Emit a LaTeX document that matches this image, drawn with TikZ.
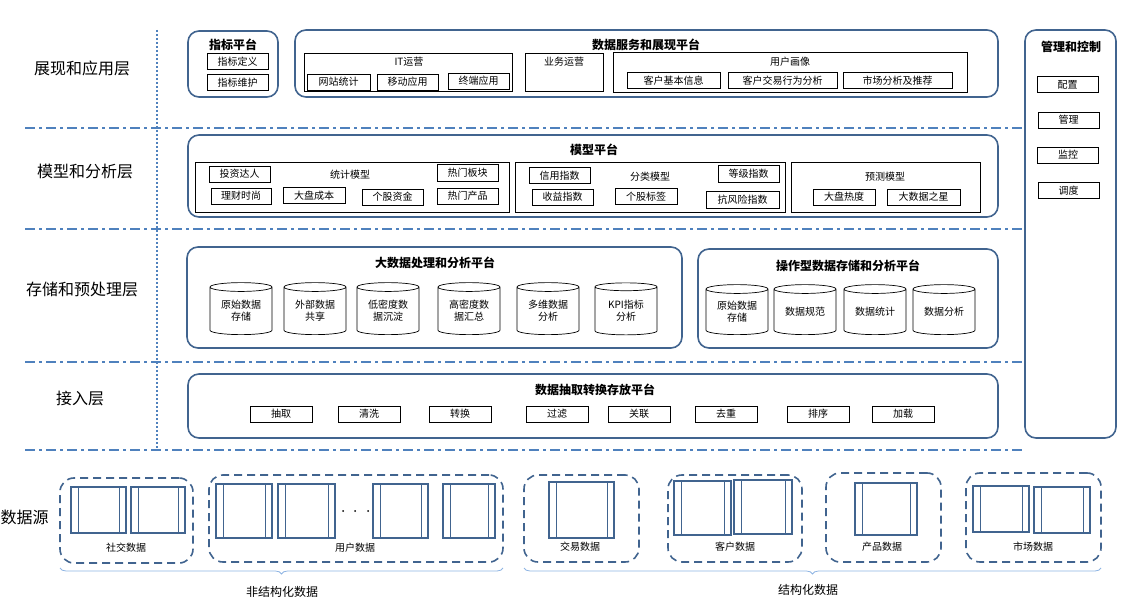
\documentclass[tikz,border=0pt]{standalone}
\usepackage{fontspec}
\setmainfont{Noto Sans CJK SC}
\usetikzlibrary{shapes.geometric,decorations.pathreplacing}
\definecolor{boxblue}{RGB}{65,100,143}
\definecolor{lineblue}{RGB}{79,129,189}
\definecolor{bracecol}{RGB}{142,180,227}

\begin{document}
\begin{tikzpicture}[
  x=1pt, y=-1pt,
  layer/.style={font=\fontsize{16}{18}\selectfont},
  platform/.style={draw=boxblue, line width=1.6pt, rounded corners=11pt, inner sep=0pt},
  title/.style={font=\bfseries\fontsize{12}{14}\selectfont},
  panel/.style={draw, line width=0.7pt, inner sep=0pt},
  item/.style={draw, line width=0.7pt, inner sep=0pt, minimum width=61pt, minimum height=16pt, font=\fontsize{10}{12}\selectfont},
  caption/.style={font=\fontsize{10}{12}\selectfont},
  store/.style={cylinder, shape border rotate=90, aspect=0.22, draw, line width=0.7pt, fill=white,
    minimum width=62pt, minimum height=52pt, inner sep=0pt, align=center, font=\fontsize{10}{12}\selectfont},
  source/.style={draw=boxblue, line width=1.6pt, dash pattern=on 8pt off 5pt, rounded corners=14pt, inner sep=0pt},
  sheet/.style={draw=boxblue, line width=1.3pt, inner sep=0pt, path picture={
    \draw[boxblue, line width=1pt]
      ([xshift=7pt]path picture bounding box.north west) -- ([xshift=7pt]path picture bounding box.south west)
      ([xshift=-7pt]path picture bounding box.north east) -- ([xshift=-7pt]path picture bounding box.south east);}},
  sep/.style={lineblue, line width=1.8pt, dash pattern=on 10pt off 4pt on 3pt off 4pt},
  span/.style={bracecol, line width=0.8pt, decorate, decoration={brace, mirror, amplitude=6pt}},
  footer/.style={font=\fontsize{12}{14}\selectfont}
]
\useasboundingbox (0,0) rectangle (1121,601);

% Layer separators
\draw[lineblue, line width=1.8pt, dash pattern=on 2pt off 2pt] (157,30) -- (157,450);
\foreach \y in {128,229,362,450}
  \draw[sep] (25,\y) -- (1022,\y);

% Layer names
\node[layer] (lshow) at (82,68) {展现和应用层};
\node[layer] (lmodel) at (85,171) {模型和分析层};
\node[layer] (lstore) at (82,289) {存储和预处理层};
\node[layer] (laccess) at (80,398) {接入层};
\node[layer, anchor=west] (lsrc) at (-3,517) {数据源};

% Presentation layer
\node[platform, minimum width=90pt, minimum height=66pt] (idxplat) at (233,64) {};
\node[title] (idxtitle) at (233,45) {指标平台};
\node[item] (idxdef) at (237.5,61.5) {指标定义};
\node[item] (idxmnt) at (237.5,82.5) {指标维护};

\node[platform, minimum width=703pt, minimum height=67pt] (svcplat) at (646.5,63.5) {};
\node[title] (svctitle) at (646,45) {数据服务和展现平台};
\node[panel, minimum width=208pt, minimum height=38pt] (itops) at (408,72) {};
\node[caption] at (409,62) {IT运营};
\node[item, minimum width=63pt] (web) at (338.5,82) {网站统计};
\node[item] (mobile) at (407.5,82) {移动应用};
\node[item] (terminal) at (478.5,81) {终端应用};
\node[panel, minimum width=78pt, minimum height=38pt] (bizops) at (564,72) {};
\node[caption] at (564,62) {业务运营};
\node[panel, minimum width=354pt, minimum height=40pt] (persona) at (790,72) {};
\node[caption] at (790,62) {用户画像};
\node[item, minimum width=93pt] (cinfo) at (673.5,80.5) {客户基本信息};
\node[item, minimum width=109pt] (ctrade) at (782.5,80.5) {客户交易行为分析};
\node[item, minimum width=109pt] (market) at (897.5,80.5) {市场分析及推荐};

% Management column
\node[platform, minimum width=91pt, minimum height=408pt] (mgmt) at (1070.5,234) {};
\node[title] (mgmttitle) at (1071,47) {管理和控制};
\node[item] (config) at (1067.5,84.5) {配置};
\node[item] (manage) at (1068.5,120) {管理};
\node[item] (monitor) at (1068,155) {监控};
\node[item] (dispatch) at (1068.5,190.5) {调度};

% Model layer
\node[platform, minimum width=810pt, minimum height=82pt] (modplat) at (593,176) {};
\node[title] (modtitle) at (594,150) {模型平台};
\node[panel, minimum width=314pt, minimum height=50pt] (stat) at (352,187) {};
\node[caption] at (350,175) {统计模型};
\node[item] (investor) at (239.5,174) {投资达人};
\node[item, minimum height=17pt] (hotsector) at (467.5,173) {热门板块};
\node[item, minimum width=60pt] (wealth) at (241,196) {理财时尚};
\node[item, minimum width=62pt] (cost) at (314,195.5) {大盘成本};
\node[item] (fund) at (392.5,197) {个股资金};
\node[item] (hotprod) at (467.5,196) {热门产品};
\node[panel, minimum width=270pt, minimum height=50pt] (cls) at (650,187) {};
\node[caption] at (650,177) {分类模型};
\node[item] (credit) at (559.5,175.5) {信用指数};
\node[item, minimum height=17pt] (grade) at (748.5,173.5) {等级指数};
\node[item] (profit) at (562.5,197) {收益指数};
\node[item, minimum width=62pt] (tag) at (646,196.5) {个股标签};
\node[item, minimum width=73pt, minimum height=17pt] (risk) at (742.5,199.5) {抗风险指数};
\node[panel, minimum width=189pt, minimum height=50pt] (pred) at (885.5,187) {};
\node[caption] at (885,177) {预测模型};
\node[item, minimum width=62pt] (heat) at (844,197) {大盘热度};
\node[item, minimum width=73pt] (star) at (923.5,197) {大数据之星};

% Storage layer
\node[platform, minimum width=495pt, minimum height=101pt] (bigplat) at (434.5,297.5) {};
\node[title] (bigtitle) at (435,263) {大数据处理和分析平台};
\node[store] (raw) at (241,311) {原始数据\\存储};
\node[store] (share) at (315,311) {外部数据\\共享};
\node[store] (lowden) at (388,311) {低密度数\\据沉淀};
\node[store] (highden) at (469,311) {高密度数\\据汇总};
\node[store] (multi) at (548,311) {多维数据\\分析};
\node[store] (kpi) at (626,311) {KPI指标\\分析};

\node[platform, minimum width=300pt, minimum height=99pt] (opplat) at (848,298.5) {};
\node[title] (optitle) at (848,266) {操作型数据存储和分析平台};
\node[store, minimum height=50pt] (opraw) at (737,312) {原始数据\\存储};
\node[store, minimum height=50pt] (norm) at (805,312) {数据规范};
\node[store, minimum height=50pt] (count) at (875,312) {数据统计};
\node[store, minimum height=50pt] (analy) at (944,312) {数据分析};

% Access layer
\node[platform, minimum width=810pt, minimum height=64pt] (etlplat) at (593,406) {};
\node[title] (etltitle) at (595,390) {数据抽取转换存放平台};
\foreach \x/\name/\txt in {281/extract/抽取, 369/clean/清洗, 460/convert/转换, 557/filter/过滤,
    639/join/关联, 726/dedup/去重, 818/sort/排序, 903/load/加载}
  \node[item, minimum width=62pt] (\name) at (\x,414) {\txt};

% Data sources
\node[source, minimum width=133pt, minimum height=85pt] (social) at (126.5,520.5) {};
\node[caption] at (126,548) {社交数据};
\node[sheet, minimum width=55pt, minimum height=46pt] (soc1) at (98.5,510) {};
\node[sheet, minimum width=54pt, minimum height=46pt] (soc2) at (158,510) {};

\node[source, minimum width=294pt, minimum height=87pt] (user) at (356,518.5) {};
\node[caption] at (355,548) {用户数据};
\node[sheet, minimum width=56pt, minimum height=54pt] (usr1) at (244,511) {};
\node[sheet, minimum width=57pt, minimum height=54pt] (usr2) at (306.5,511) {};
\node[sheet, minimum width=55pt, minimum height=54pt] (usr3) at (400.5,511) {};
\node[sheet, minimum width=52pt, minimum height=54pt] (usr4) at (469,511) {};
\foreach \x in {343,355,368}
  \fill (\x,511) circle (1pt);

\node[source, minimum width=115pt, minimum height=87pt] (trade) at (581.5,518.5) {};
\node[caption] at (580,547) {交易数据};
\node[sheet, minimum width=65pt, minimum height=56pt] (trd1) at (581.5,510) {};

\node[source, minimum width=134pt, minimum height=87pt] (customer) at (735,518.5) {};
\node[caption] at (735,547) {客户数据};
\node[sheet, minimum width=57pt, minimum height=54pt] (cus1) at (702.5,508) {};
\node[sheet, minimum width=58pt, minimum height=54pt] (cus2) at (763,507) {};

\node[source, minimum width=115pt, minimum height=89pt] (product) at (883.5,517.5) {};
\node[caption] at (882,547) {产品数据};
\node[sheet, minimum width=62pt, minimum height=52pt] (prd1) at (886,509) {};

\node[source, minimum width=135pt, minimum height=89pt] (marketd) at (1033.5,517.5) {};
\node[caption] at (1033,547) {市场数据};
\node[sheet, minimum width=56pt, minimum height=46pt] (mkt1) at (1001,509) {};
\node[sheet, minimum width=56pt, minimum height=46pt] (mkt2) at (1062,510) {};

% Grouping braces
\coordinate (unsL) at (60,568);
\coordinate (unsR) at (503,568);
\coordinate (strL) at (524,568);
\coordinate (strR) at (1101,568);
\draw[span] (unsL) -- (unsR);
\draw[span] (strL) -- (strR);
\node[footer] (unstruct) at (282,592) {非结构化数据};
\node[footer] (struct) at (808,590) {结构化数据};

\end{tikzpicture}
\end{document}
